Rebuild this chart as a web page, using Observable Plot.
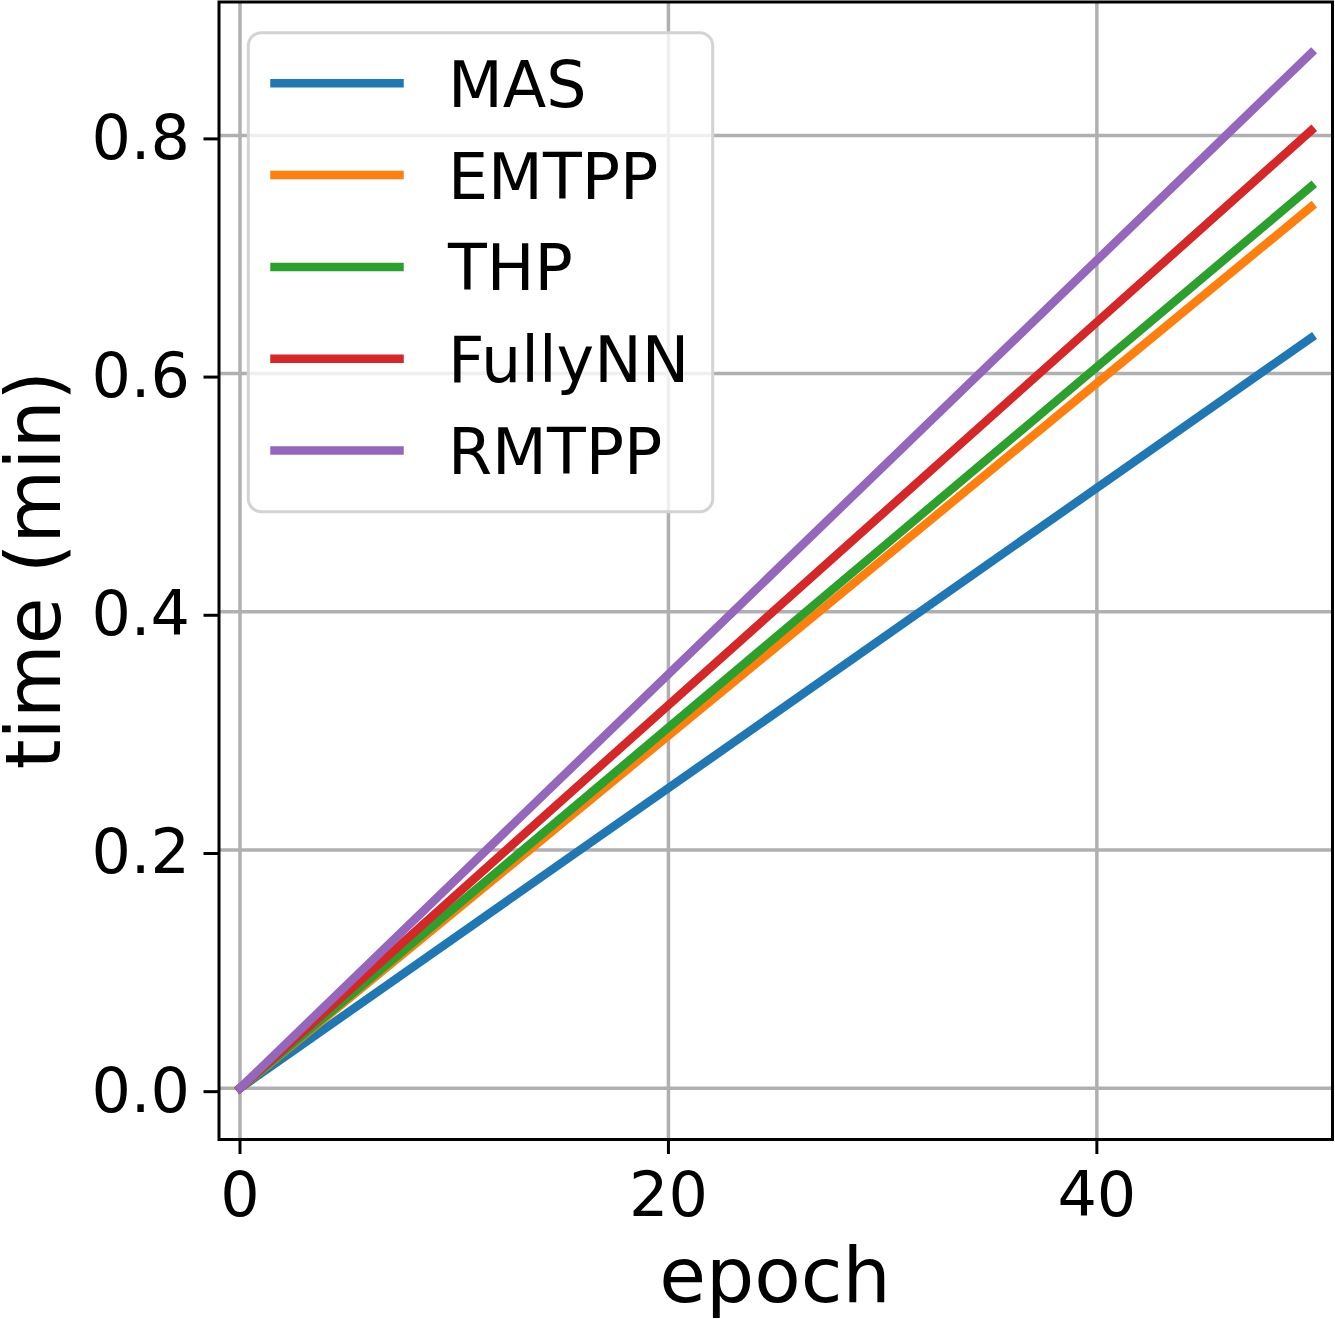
<!DOCTYPE html>
<html><head><meta charset="utf-8">
<script src="https://cdn.jsdelivr.net/npm/d3@7"></script>
<script src="https://cdn.jsdelivr.net/npm/@observablehq/plot@0.6"></script>
<style>body{margin:0;background:#fff} svg{display:block}</style>
</head><body><div id="chart"></div>
<script>
// ---- data ----
const methods = ["MAS", "EMTPP", "THP", "FullyNN", "RMTPP"];
const colors = ["#1f77b4", "#ff7f0e", "#2ca02c", "#d62728", "#9467bd"];
const epochs = [0, 50];
const masTime = [0, 0.630];
const emtppTime = [0, 0.740];
const thpTime = [0, 0.757];
const fullyNNTime = [0, 0.804];
const rmtppTime = [0, 0.869];
const xTicks = [0, 20, 40];
const yTicks = [0, 0.2, 0.4, 0.6, 0.8];
const xLabel = "epoch";
const yLabel = "time (min)";

const series = [masTime, emtppTime, thpTime, fullyNNTime, rmtppTime];
const rows = [];
series.forEach((vals, i) => epochs.forEach((e, j) => rows.push({method: methods[i], epoch: e, time: vals[j]})));

const FONT = "DejaVu Sans";
const plot = Plot.plot({
  width: 1335, height: 1319,
  marginLeft: 218.5, marginRight: 3, marginTop: 1.5, marginBottom: 180,
  style: {fontFamily: FONT, background: "white", color: "black"},
  x: {domain: [-0.98, 51]},
  y: {domain: [-0.0431, 0.912]},
  color: {domain: methods, range: colors},
  marks: [
    Plot.gridX(xTicks, {stroke: "#b0b0b0", strokeOpacity: 1, strokeWidth: 3.5}),
    Plot.gridY(yTicks, {stroke: "#b0b0b0", strokeOpacity: 1, strokeWidth: 3.5}),
    Plot.line(rows, {x: "epoch", y: "time", z: "method", stroke: "method", strokeWidth: 8.5, strokeLinecap: "square", clip: true}),
    Plot.frame({stroke: "black", strokeWidth: 3}),
    Plot.axisX(xTicks, {tickSize: 15, tickPadding: 17, fontSize: 62, label: null, strokeWidth: 3}),
    Plot.axisY(yTicks, {tickSize: 15, tickPadding: 14, fontSize: 62, label: null, strokeWidth: 3, dy: 3.5, tickFormat: d3.format(".1f")})
  ]
});
document.getElementById("chart").appendChild(plot);

const svg = d3.select(plot);
// axis titles
svg.append("text").attr("x", 775).attr("y", 1302).attr("text-anchor", "middle")
  .attr("font-family", FONT).attr("font-size", 76).attr("fill", "black").text(xLabel);
svg.append("text").attr("transform", "translate(60,570) rotate(-90)").attr("text-anchor", "middle")
  .attr("font-family", FONT).attr("font-size", 76).attr("fill", "black").text(yLabel);

// legend
const lg = svg.append("g");
lg.append("rect").attr("x", 248.3).attr("y", 32.7).attr("width", 464.4).attr("height", 479)
  .attr("rx", 13).attr("fill", "white").attr("fill-opacity", 0.8)
  .attr("stroke", "#d3d3d3").attr("stroke-width", 3);
methods.forEach((m, i) => {
  const yy = 83.3 + i * 91.8;
  lg.append("line").attr("x1", 274.5).attr("x2", 399.5).attr("y1", yy).attr("y2", yy)
    .attr("stroke", colors[i]).attr("stroke-width", 8.5).attr("stroke-linecap", "square");
  lg.append("text").attr("x", 448).attr("y", yy + 23.5).attr("text-anchor", "start")
    .attr("font-family", FONT).attr("font-size", 63.5).attr("fill", "black").text(m);
});
</script>
</body></html>
